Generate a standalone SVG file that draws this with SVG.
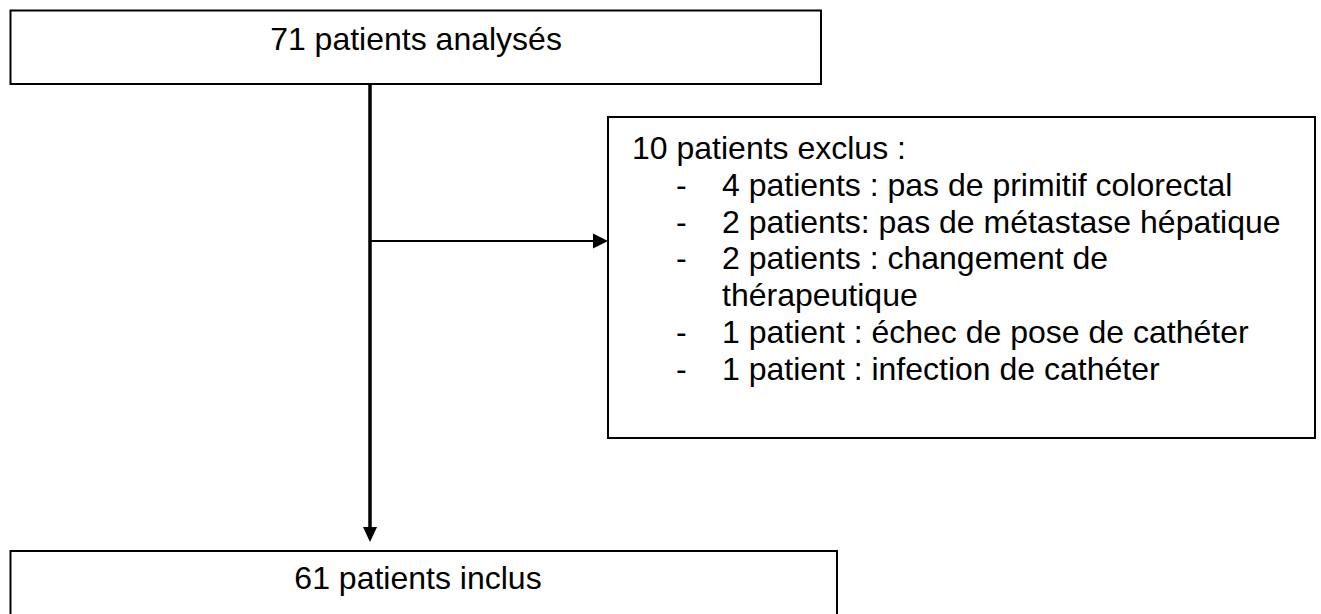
<svg xmlns="http://www.w3.org/2000/svg" width="1321" height="614" viewBox="0 0 1321 614">
<style>
.box{fill:#fff;stroke:#000;stroke-width:2}
.t{font-family:"Liberation Sans",Arial,sans-serif;font-size:32px;fill:#000}
.c{text-anchor:middle}
</style>
<rect width="1321" height="614" fill="#fff"/>
<g id="connectors">
<line x1="370" y1="84" x2="370" y2="528" stroke="#000" stroke-width="3.5"/>
<path d="M363,527 L377,527 L370,542 z" fill="#000"/>
<line x1="370" y1="241" x2="594" y2="241" stroke="#000" stroke-width="2"/>
<path d="M593,233.5 L608,241 L593,248.5 z" fill="#000"/>
</g>
<g id="n1">
<rect class="box" x="10.5" y="10.5" width="810.5" height="73.5"/>
<text class="t c" x="416" y="50">71 patients analysés</text>
</g>
<g id="n2">
<rect class="box" x="608" y="117" width="707" height="321"/>
<text class="t" x="632" y="159">10 patients exclus :</text>
<text class="t" x="676" y="196">-</text><text class="t" x="722" y="196">4 patients : pas de primitif colorectal</text>
<text class="t" x="676" y="233">-</text><text class="t" x="722" y="233">2 patients: pas de métastase hépatique</text>
<text class="t" x="676" y="269">-</text><text class="t" x="722" y="269">2 patients : changement de</text>
<text class="t" x="722" y="306">thérapeutique</text>
<text class="t" x="676" y="343">-</text><text class="t" x="722" y="343">1 patient : échec de pose de cathéter</text>
<text class="t" x="676" y="380">-</text><text class="t" x="722" y="380">1 patient : infection de cathéter</text>
</g>
<g id="n3">
<rect class="box" x="10.5" y="551" width="826.5" height="80"/>
<text class="t c" x="418" y="589">61 patients inclus</text>
</g>
</svg>
